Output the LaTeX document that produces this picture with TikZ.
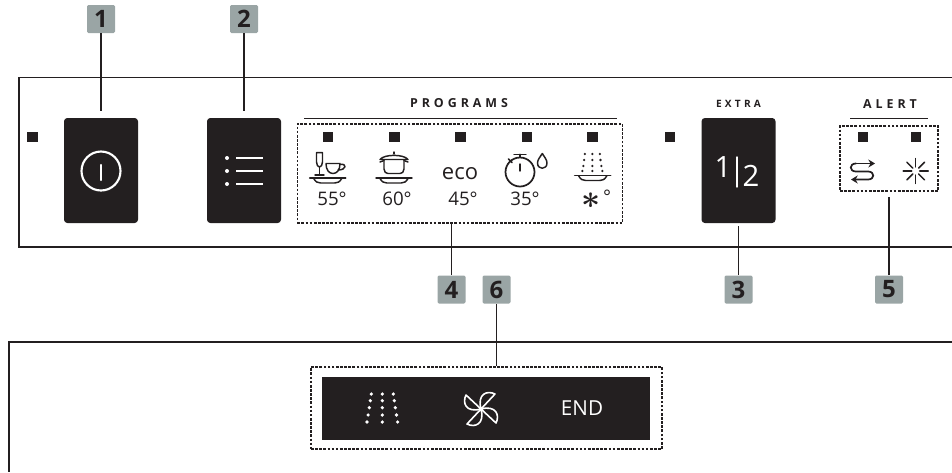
\documentclass[tikz,border=0pt]{standalone}
\usepackage{fontspec}
\setmainfont{Open Sans}
\newfontfamily\spacedfont[LetterSpace=32]{Open Sans}
\usepackage{tikz}
\usetikzlibrary{arrows.meta}

\definecolor{inkdark}{HTML}{231F20}
\definecolor{badgegray}{HTML}{9AA5A5}

\tikzset{
    badge/.style={fill=badgegray, text=inkdark, rounded corners=1pt, minimum size=21pt, inner sep=0pt, font=\fontsize{18}{18}\selectfont\bfseries},
    panelbtn/.style={fill=inkdark, text=white, rounded corners=2.5pt, minimum width=55.5pt, minimum height=78.75pt, inner sep=0pt},
    led/.style={fill=inkdark, minimum size=8.2pt, inner sep=0pt},
    dashbox/.style={draw=inkdark, line width=0.9pt, dash pattern=on 2pt off 1.1pt, inner sep=0pt},
    leader/.style={draw=inkdark, line width=1.2pt},
    rulebar/.style={draw=inkdark, line width=1pt},
    temp/.style={text=inkdark, inner sep=0pt, font=\fontsize{14}{14}\selectfont},
    head/.style={text=inkdark, inner sep=0pt, font=\fontsize{9.3}{9.3}\selectfont\spacedfont\bfseries},
    icon/.style={draw=inkdark, line width=1.1pt, line cap=round, line join=round},
    iconw/.style={draw=white, line width=1.2pt, line cap=round, line join=round},
    plate/.pic={
        \draw[icon] (-18,0) -- (18,0);
        \draw[icon] (-14,0.5) .. controls (-12,4) and (-10,5) .. (-7,5) -- (7,5) .. controls (10,5) and (12,4) .. (14,0.5);
    }
}

\begin{document}
\begin{tikzpicture}[x=0.75pt, y=-0.75pt]
    \useasboundingbox (0,0) rectangle (952,472);

    % panels
    \draw[inkdark, line width=1.3pt] (952,77.5) -- (19,77.5) -- (19,247) -- (952,247);
    \draw[inkdark, line width=1.3pt] (952,342) -- (9,342) -- (9,472);

    % buttons
    \node[panelbtn] (power) at (101,170.5) {};
    \node[panelbtn] (menu) at (244,170.5) {};
    \node[panelbtn] (extra) at (738.5,170.5) {};

    % dashed boxes
    \node[dashbox, minimum width=244pt, minimum height=74.25pt] (progbox) at (460,173.5) {};
    \node[dashbox, minimum width=73.5pt, minimum height=48.75pt] (alertbox) at (889,158.5) {};
    \node[dashbox, minimum width=263.25pt, minimum height=61.5pt] (dispbox) at (486.5,408) {};
    \node[fill=inkdark, minimum width=246pt, minimum height=47.25pt, inner sep=0pt] (disp) at (486,408.5) {};

    % headings
    \node[head] (progs) at (459,103) {PROGRAMS};
    \node[head, font=\fontsize{7.6}{7.6}\selectfont\spacedfont\bfseries] (extrahead) at (738.5,104) {EXTRA};
    \node[head] (alerthead) at (890,104) {ALERT};
    \draw[rulebar] (304,118.5) -- (617,118.5);
    \draw[rulebar] (850,118.5) -- (928,118.5);

    % leds
    \foreach \n/\x in {a/32.5,b/328,c/394.5,d/460.5,e/527,f/592.5,g/670,h/863,i/916}
        \node[led] (led\n) at (\x,137) {};

    % badges and leaders
    \node[badge] (b1) at (101,19) {1};
    \node[badge] (b2) at (244,19) {2};
    \node[badge] (b3) at (738.5,289.5) {3};
    \node[badge] (b4) at (451.5,289.5) {4};
    \node[badge] (b5) at (889,289.5) {5};
    \node[badge] (b6) at (496.5,289.5) {6};
    \coordinate (e1) at (101,111);
    \coordinate (e2) at (244,111);
    \coordinate (e3) at (738.5,226);
    \coordinate (e5) at (889,197);
    \draw[leader] (b1) -- (e1);
    \draw[leader] (b2) -- (e2);
    \draw[leader] (b3) -- (e3);
    \draw[leader] (b4) -- (b4 |- progbox.south);
    \draw[leader] (b5) -- (e5);
    \draw[leader] (b6) -- (b6 |- dispbox.north);

    % power icon
    \draw[iconw, line width=1.6pt] (101,171) circle (19.5);
    \draw[iconw, line width=1.6pt] (101,165) -- (101,180);

    % menu icon
    \foreach \y in {158,171,184} {
        \fill[white] (227,\y) circle (2);
        \draw[iconw, line cap=butt, line width=1.6pt] (236,\y) -- (263,\y);
    }

    % half load
    \node[text=white, inner sep=0pt, font=\fontsize{22}{22}\selectfont] (one) at (723,167) {1};
    \node[text=white, inner sep=0pt, font=\fontsize{22}{22}\selectfont] (two) at (751,176) {2};
    \draw[iconw, line width=1.1pt] (737,157) -- (737,187);

    % temperatures
    \node[temp] (t1) at (332,199) {55°};
    \node[temp] (t2) at (397,199) {60°};
    \node[temp, font=\fontsize{16.5}{16.5}\selectfont] (eco) at (460,174) {eco};
    \node[temp] (t3) at (463,199) {45°};
    \node[temp] (t4) at (525,199) {35°};
    \node[temp] (t5) at (596.5,198) {\raisebox{-8pt}[0pt][0pt]{\fontsize{30}{30}\selectfont\boldmath$\ast$}\kern1.5pt\raisebox{-3.75pt}[0pt][0pt]{°}};

    % glass and cup
    \pic at (327.7,178) {plate};
    \draw[icon] (316.5,152.7) -- (322.5,152.7) -- (322.5,162) .. controls (322.5,165) and (321,167) .. (319.5,167) .. controls (318,167) and (316.5,165) .. (316.5,162) -- cycle;
    \draw[icon] (319.5,167) -- (319.5,175);
    \draw[icon] (315,175) -- (324,175);
    \draw[icon] (326,163.5) -- (340,163.5) .. controls (340,170) and (337,173.5) .. (333,173.5) .. controls (329,173.5) and (326,170) .. (326,163.5);
    \draw[icon] (340,164.5) .. controls (347,163) and (347,170) .. (338,170);

    % pot
    \pic at (394,178) {plate};
    \draw[icon] (384,159.5) -- (384,169) .. controls (384,172) and (386,173.5) .. (388,173.5) -- (400,173.5) .. controls (402,173.5) and (404,172) .. (404,169) -- (404,159.5);
    \draw[icon] (380,159.5) .. controls (384,154) and (404,154) .. (408,159.5) -- cycle;
    \draw[icon] (394,152) -- (394,154);
    \draw[icon] (380,162) -- (384,160.5);
    \draw[icon] (408,162) -- (404,160.5);

    % stopwatch and drop
    \draw[icon, line width=1.3pt] (520,172) circle (14.5);
    \draw[icon] (514,154.3) -- (526,154.3);
    \draw[icon] (520,154.3) -- (520,157.5);
    \draw[icon] (508.5,159) -- (512,162.5);
    \draw[icon] (520,164) -- (520,171);
    \draw[icon] (542.3,153.5) .. controls (540,157) and (537.5,160) .. (537.5,163) .. controls (537.5,170) and (547,170) .. (547,163) .. controls (547,160) and (544.5,157) .. (542.3,153.5);

    % rinse
    \pic at (592.7,175.5) {plate};
    \foreach \y/\d in {154/7.5,160/8.2,166/9,171/10}
        \foreach \s in {-1,0,1}
            \fill[inkdark] (592.3+\s*\d,\y) circle (1.3);

    % alert icons
    \draw[icon, line width=1.3pt, -{Stealth[length=5pt,width=6pt]}] (856,163.5) -- (875,163.5);
    \draw[icon, line width=1.3pt, -{Stealth[length=5pt,width=6pt]}] (856,163.5) .. controls (849,163.5) and (849,171.5) .. (856,171.5) -- (868,171.5) .. controls (875,171.5) and (875,179.5) .. (868,179.5) -- (851,179.5);
    \foreach \a in {0,45,...,315}
        \draw[icon, rotate around={\a:(915.7,171)}] (915.7,175) -- (915.7,183.5);

    % display
    \foreach \y/\d in {394/11,400.7/12,407.7/13,415/14.2,422/15.3}
        \foreach \s in {-1,0,1}
            \fill[white] (382.3+\s*\d,\y) circle (1.8);
    \foreach \a in {0,90,180,270}
        \draw[iconw, shift={(481,409)}, rotate=\a] (0,0) -- (14,-15) .. controls (6,-19) and (-4,-15) .. (0,0);
    \node[text=white, inner sep=0pt, font=\fontsize{15.5}{15.5}\selectfont] (endtxt) at (582,408) {END};
\end{tikzpicture}
\end{document}
